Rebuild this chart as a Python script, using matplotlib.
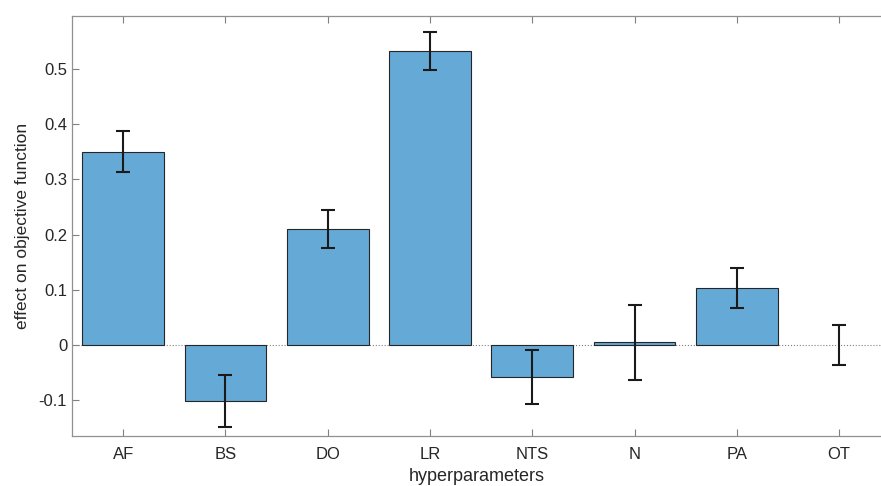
import numpy as np
import matplotlib.pyplot as plt

labels = ['AF', 'BS', 'DO', 'LR', 'NTS', 'N', 'PA', 'OT']
effect = [0.350, -0.101, 0.210, 0.533, -0.058, 0.005, 0.103, 0.0]
err = [0.037, 0.047, 0.035, 0.034, 0.049, 0.068, 0.036, 0.036]

plt.rcParams['font.family'] = ['Liberation Sans', 'DejaVu Sans']

fig = plt.figure(figsize=(8.81, 4.86), dpi=100)
ax = fig.add_axes([72/881, 50/486, 809/881, 420/486])

x = np.arange(1, len(labels)+1)
edges = ['#262626' if v != 0 else 'none' for v in effect]
ax.bar(x, effect, width=0.8, color='#65a9d7', edgecolor=edges, linewidth=0.8, zorder=2)
ax.errorbar(x, effect, yerr=err, fmt='none', ecolor='#1a1a1a', elinewidth=1.5,
            capsize=5, capthick=1.5, zorder=3)
ax.axhline(0, color='#808080', linestyle=':', linewidth=0.8, zorder=1)

ax.set_xlim(0.5, 8.41)
ax.set_ylim(-0.165, 0.596)
ax.set_xticks(x)
ax.set_xticklabels(labels)
ax.set_yticks([-0.1, 0, 0.1, 0.2, 0.3, 0.4, 0.5])
ax.set_yticklabels(['-0.1', '0', '0.1', '0.2', '0.3', '0.4', '0.5'])
ax.tick_params(axis='x', direction='in', top=True, length=5, width=0.8,
               colors='#808080', labelcolor='#262626', labelsize=12, pad=8)
ax.tick_params(axis='y', direction='in', length=5, width=0.8,
               colors='#808080', labelcolor='#262626', labelsize=12)
for s in ax.spines.values():
    s.set_color('#909090')
    s.set_linewidth(0.9)
ax.spines['right'].set_visible(False)

ax.set_xlabel('hyperparameters', fontsize=13, color='#262626', labelpad=4)
ax.set_ylabel('effect on objective function', fontsize=12.5, color='#262626', labelpad=6)

fig.savefig('out.png', dpi=100)
